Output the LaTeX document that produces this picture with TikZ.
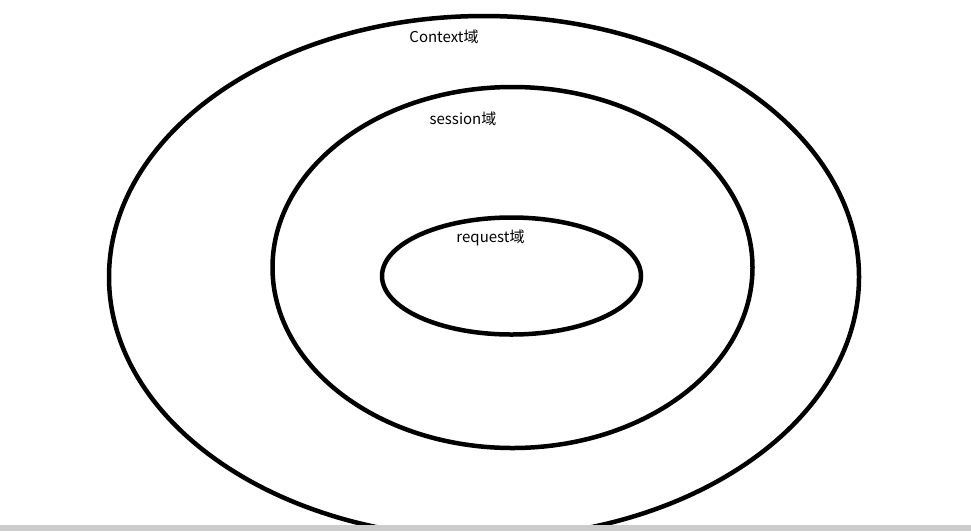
\documentclass[tikz,border=0pt]{standalone}
\usepackage{fontspec}
\setmainfont{Noto Sans CJK SC}
\begin{document}
\begin{tikzpicture}[x=1pt,y=-1pt,
  ring/.style={draw=black,line width=4.5pt},
  lbl/.style={font=\fontsize{15pt}{17pt}\selectfont,inner sep=0pt,text=black}]
\useasboundingbox (0,0) rectangle (971,531);
\begin{scope}
\clip (0,0) rectangle (971,525);
\draw[ring] (484,277) ellipse [x radius=375, y radius=261];
\draw[ring] (512.5,267.5) ellipse [x radius=240, y radius=180.5];
\draw[ring] (511.5,276) ellipse [x radius=129.5, y radius=58.5];
\end{scope}
\fill[fill={rgb,255:red,204;green,204;blue,204}] (0,525) rectangle (971,531);
\node[lbl] (ctx) at (444,37) {Context域};
\node[lbl] (ses) at (463,119) {session域};
\node[lbl] (req) at (490.5,238) {request域};
\end{tikzpicture}
\end{document}
